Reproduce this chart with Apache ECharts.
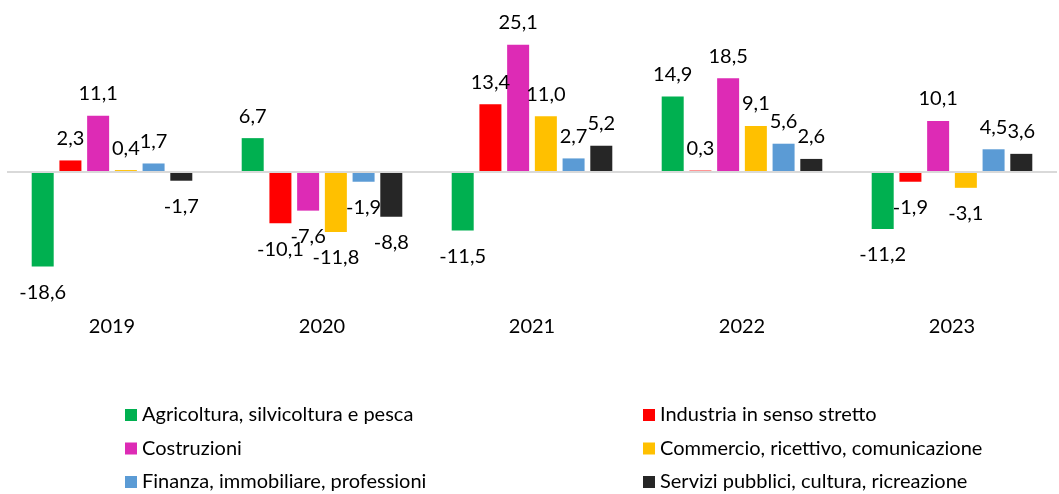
<!DOCTYPE html>
<html>
<head>
<meta charset="utf-8">
<script src="https://cdn.jsdelivr.net/npm/echarts@6/dist/echarts.min.js"></script>
<style>
html,body{margin:0;padding:0;background:#fff;}
#chart{width:1059px;height:494px;}
</style>
</head>
<body>
<div id="chart"></div>
<script>
const categories = ['2019', '2020', '2021', '2022', '2023'];
const seriesNames = [
  'Agricoltura, silvicoltura e pesca',
  'Industria in senso stretto',
  'Costruzioni',
  'Commercio, ricettivo, comunicazione',
  'Finanza, immobiliare, professioni',
  'Servizi pubblici, cultura, ricreazione'
];
const agricoltura = [-18.6, 6.7, -11.5, 14.9, -11.2];
const industria = [2.3, -10.1, 13.4, 0.3, -1.9];
const costruzioni = [11.1, -7.6, 25.1, 18.5, 10.1];
const commercio = [0.4, -11.8, 11.0, 9.1, -3.1];
const finanza = [1.7, -1.9, 2.7, 5.6, 4.5];
const servizi = [-1.7, -8.8, 5.2, 2.6, 3.6];
const colors = ['#00B050', '#FF0000', '#DD2BB5', '#FFC000', '#5B9BD5', '#262626'];

const allValues = [agricoltura, industria, costruzioni, commercio, finanza, servizi];
const FONT = 'Lato';
const FS = 20;

const series = allValues.map((vals, i) => {
  const s = {
    name: seriesNames[i],
    type: 'bar',
    barWidth: 22,
    barGap: '26%',
    itemStyle: { color: colors[i] },
    data: vals.map(v => ({
      value: v,
      label: {
        position: v < 0 ? 'bottom' : 'top',
        distance: v < 0 ? 16 : 12
      }
    })),
    label: {
      show: true,
      fontFamily: FONT,
      fontSize: FS,
      color: '#000',
      formatter: p => p.value.toFixed(1).replace('.', ',')
    }
  };
  if (i === 0) {
    s.markLine = {
      silent: true,
      symbol: ['none', 'none'],
      label: { show: false },
      lineStyle: { color: '#D9D9D9', width: 2, type: 'solid' },
      data: [{ yAxis: 0 }]
    };
  }
  return s;
});

const legendBase = {
  orient: 'vertical',
  top: 405,
  height: 89,
  padding: 0,
  itemWidth: 12,
  itemHeight: 12,
  itemGap: 13.5,
  icon: 'rect',
  textStyle: { fontFamily: FONT, fontSize: FS, color: '#000', lineHeight: 20 },
  selectedMode: false
};

const chart = echarts.init(document.getElementById('chart'));
chart.setOption({
  animation: false,
  backgroundColor: '#fff',
  color: colors,
  grid: { left: 7, right: 2, top: 20, bottom: 185, containLabel: false },
  xAxis: {
    type: 'category',
    data: categories,
    axisLine: { show: false },
    axisTick: { show: false },
    axisLabel: { fontFamily: FONT, fontSize: FS, color: '#000', margin: 8 }
  },
  yAxis: {
    type: 'value',
    min: -27,
    max: 30,
    show: false
  },
  legend: [
    Object.assign({}, legendBase, {
      data: [seriesNames[0], seriesNames[2], seriesNames[4]],
      left: 125
    }),
    Object.assign({}, legendBase, {
      data: [seriesNames[1], seriesNames[3], seriesNames[5]],
      left: 643
    })
  ],
  series: series
});
</script>
</body>
</html>
